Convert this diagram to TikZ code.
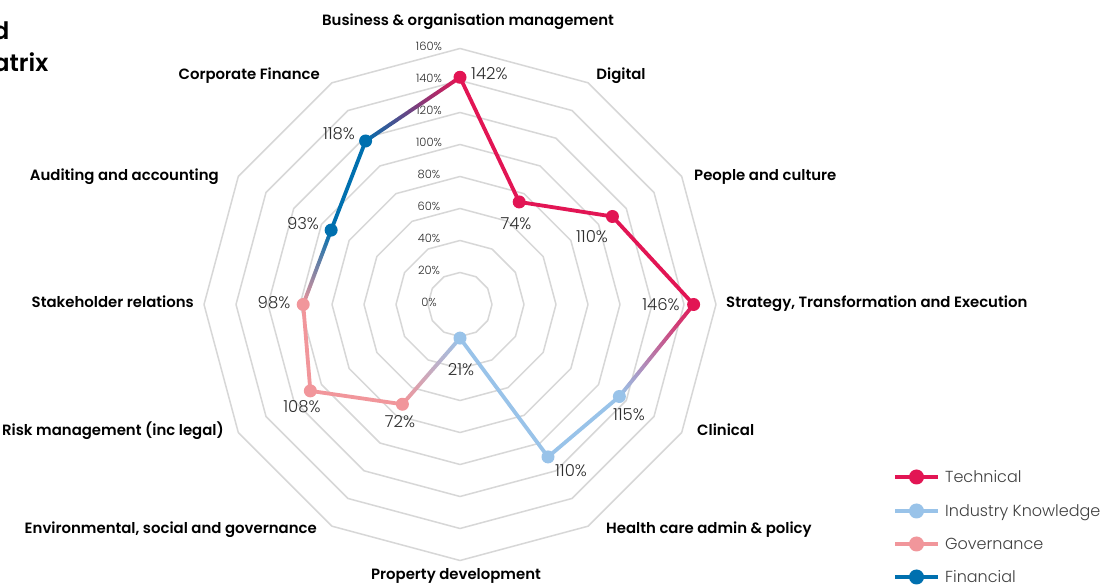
\documentclass[tikz,border=0pt]{standalone}
\usepackage{fontspec}
\setmainfont{Poppins}
\newfontfamily\lightfont{Poppins Light}
\newfontfamily\semifont{Poppins SemiBold}
\usetikzlibrary{calc}
\definecolor{techred}{RGB}{226,21,84}
\definecolor{indblue}{RGB}{153,195,233}
\definecolor{govpink}{RGB}{241,150,155}
\definecolor{finblue}{RGB}{0,112,175}
\definecolor{gridgray}{RGB}{215,215,215}
\definecolor{valgray}{RGB}{45,45,45}
\definecolor{leggray}{RGB}{64,64,64}
\begin{document}
\begin{tikzpicture}[x=1pt,y=1pt,
  gridring/.style={draw=gridgray, line width=1.5pt, line join=round},
  serie/.style={line width=3.8pt, line cap=round, line join=round},
  mk/.style={circle, inner sep=0pt, minimum size=13pt},
  cat/.style={font=\semifont\fontsize{14.9}{16}\selectfont, text=black, inner sep=0pt},
  val/.style={font=\lightfont\fontsize{16.5}{18}\selectfont, text=valgray, inner sep=0pt},
  ticklab/.style={font=\lightfont\fontsize{11.5}{13}\selectfont, text=valgray, inner sep=0pt, anchor=base},
  leg/.style={font=\lightfont\fontsize{16}{18}\selectfont, text=leggray, inner sep=0pt, anchor=base west},
  ttl/.style={font=\semifont\fontsize{24}{28}\selectfont, text=black, inner sep=0pt, anchor=base east}]
\useasboundingbox (0,0) rectangle (1105,585);
\fill[white] (0,0) rectangle (1105,585);
% title (clipped at the left edge, as in the reference)
\node[ttl] (title1) at (9.5,545) {d};
\node[ttl] (title2) at (48.5,513) {atrix};
% rings
\foreach \k in {1,...,8}{
  \draw[gridring, shift={(460,280.5)}] (90:{32*\k}) \foreach \a in {60,30,...,-240}{ -- (\a:{32*\k})} -- cycle;
}
% tick labels
\foreach \k/\t in {0/0,1/20,2/40,3/60,4/80,5/100,6/120,7/140,8/160}{
  \node[ticklab] (tick\k) at (429,{278+32*\k}) {\t\%};
}
% data coordinates
\foreach \i/\v in {0/142,1/74,2/110,3/146,4/115,5/110,6/21,7/72,8/108,9/98,10/93,11/118}{
  \coordinate (c\i) at ($(460,280.5)+({90-30*\i}:{1.6*\v})$);
}
% solid segments
\draw[serie, techred] (c0) -- (c1) -- (c2) -- (c3);
\draw[serie, indblue] (c4) -- (c5) -- (c6);
\draw[serie, govpink] (c7) -- (c8) -- (c9);
\draw[serie, finblue] (c10) -- (c11);
% gradient segments
\foreach \s/\e/\ca/\cb in {3/4/techred/indblue, 6/7/indblue/govpink, 9/10/govpink/finblue, 11/0/finblue/techred}{
  \foreach \j in {0,...,29}{
    \pgfmathtruncatemacro\pp{100-100*(\j+0.5)/30}
    \draw[serie, color=\ca!\pp!\cb] ($(c\s)!{\j/30}!(c\e)$) -- ($(c\s)!{(\j+1)/30}!(c\e)$);
  }
}
% markers
\foreach \i/\c in {0/techred,1/techred,2/techred,3/techred,4/indblue,5/indblue,6/indblue,7/govpink,8/govpink,9/govpink,10/finblue,11/finblue}{
  \node[mk, fill=\c] (m\i) at (c\i) {};
}
% value labels
\node[val, anchor=base west] (v0) at (471,505) {142\%};
\node[val, anchor=base] (v1) at (516,355) {74\%};
\node[val, anchor=base] (v2) at (592,342) {110\%};
\node[val, anchor=base] (v3) at (661,274) {146\%};
\node[val, anchor=base] (v4) at (629,164) {115\%};
\node[val, anchor=base] (v5) at (571,108) {110\%};
\node[val, anchor=base] (v6) at (461,209) {21\%};
\node[val, anchor=base] (v7) at (400,157) {72\%};
\node[val, anchor=base] (v8) at (302,172) {108\%};
\node[val, anchor=base] (v9) at (274,276) {98\%};
\node[val, anchor=base] (v10) at (303,355) {93\%};
\node[val, anchor=base] (v11) at (339,445) {118\%};
% category labels
\node[cat, anchor=base] (k0) at (468,559) {Business \& organisation management};
\node[cat, anchor=base] (k1) at (621,505) {Digital};
\node[cat, anchor=base west] (k2) at (694,404) {People and culture};
\node[cat, anchor=base west] (k3) at (726,277) {Strategy, Transformation and Execution};
\node[cat, anchor=base west] (k4) at (697,149) {Clinical};
\node[cat, anchor=base west] (k5) at (606,51) {Health care admin \& policy};
\node[cat, anchor=base] (k6) at (456,5) {Property development};
\node[cat, anchor=base east] (k7) at (317,51) {Environmental, social and governance};
\node[cat, anchor=base east] (k8) at (224,149) {Risk management (inc legal)};
\node[cat, anchor=base east] (k9) at (194,277) {Stakeholder relations};
\node[cat, anchor=base east] (k10) at (219,404) {Auditing and accounting};
\node[cat, anchor=base east] (k11) at (320,505) {Corporate Finance};
% legend
\foreach \n/\y/\c/\t in {1/108/techred/Technical, 2/74/indblue/Industry Knowledge, 3/41/govpink/Governance, 4/8/finblue/Financial}{
  \coordinate (la\n) at (895,\y);
  \coordinate (lb\n) at (938,\y);
  \draw[line width=4.5pt, \c] (la\n) -- (lb\n);
  \node[mk, minimum size=15pt, fill=\c] (lm\n) at ($(la\n)!0.5!(lb\n)$) {};
  \node[leg] (lt\n) at (945,{\y-5.5}) {\t};
}
\end{tikzpicture}
\end{document}
